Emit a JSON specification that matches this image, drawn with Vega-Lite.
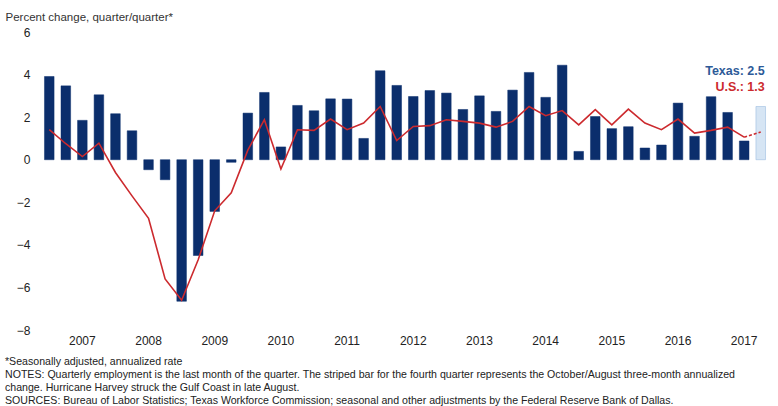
{
  "$schema": "https://vega.github.io/schema/vega-lite/v6.json",
  "width": 728,
  "height": 298,
  "autosize": {"type": "none"},
  "padding": {"left": 41, "top": 32, "right": 9, "bottom": 76},
  "background": "white",
  "config": {
    "view": {"stroke": null},
    "font": "Liberation Sans",
    "axisY": {
      "values": [-8, -6, -4, -2, 0, 2, 4, 6],
      "grid": false,
      "ticks": false,
      "domain": false,
      "labelPadding": 11,
      "labelFontSize": 12,
      "labelColor": "#222222",
      "labelFont": "Liberation Sans",
      "titleAngle": 0,
      "titleAlign": "left",
      "titleBaseline": "alphabetic",
      "titleX": -36,
      "titleY": -12,
      "titleFontSize": 11.5,
      "titleFontWeight": "normal",
      "titleColor": "#333333",
      "titleFont": "Liberation Sans"
    }
  },
  "title": {
    "text": [
      "*Seasonally adjusted, annualized rate",
      "NOTES: Quarterly employment is the last month of the quarter. The striped bar for the fourth quarter represents the October/August three-month annualized",
      "change. Hurricane Harvey struck the Gulf Coast in late August.",
      "SOURCES: Bureau of Labor Statistics; Texas Workforce Commission; seasonal and other adjustments by the Federal Reserve Bank of Dallas."
    ],
    "orient": "bottom",
    "anchor": "start",
    "frame": "group",
    "dx": -36,
    "offset": 11,
    "fontSize": 10.6,
    "fontWeight": "normal",
    "color": "#222222",
    "lineHeight": 13,
    "font": "Liberation Sans"
  },
  "data": {
    "values": [
      {"q": "2007Q1", "tx": 3.91, "us": 1.41},
      {"q": "2007Q2", "tx": 3.47, "us": 0.75},
      {"q": "2007Q3", "tx": 1.85, "us": 0.15},
      {"q": "2007Q4", "tx": 3.05, "us": 0.78},
      {"q": "2008Q1", "tx": 2.16, "us": -0.6},
      {"q": "2008Q2", "tx": 1.36, "us": -1.7},
      {"q": "2008Q3", "tx": -0.47, "us": -2.75},
      {"q": "2008Q4", "tx": -0.94, "us": -5.6},
      {"q": "2009Q1", "tx": -6.65, "us": -6.6},
      {"q": "2009Q2", "tx": -4.5, "us": -4.7},
      {"q": "2009Q3", "tx": -2.43, "us": -2.4},
      {"q": "2009Q4", "tx": -0.12, "us": -1.55},
      {"q": "2010Q1", "tx": 2.19, "us": 0.45},
      {"q": "2010Q2", "tx": 3.16, "us": 1.88},
      {"q": "2010Q3", "tx": 0.6, "us": -0.44},
      {"q": "2010Q4", "tx": 2.55, "us": 1.41},
      {"q": "2011Q1", "tx": 2.3, "us": 1.38},
      {"q": "2011Q2", "tx": 2.86, "us": 1.91},
      {"q": "2011Q3", "tx": 2.85, "us": 1.41},
      {"q": "2011Q4", "tx": 1.0, "us": 1.72},
      {"q": "2012Q1", "tx": 4.18, "us": 2.5},
      {"q": "2012Q2", "tx": 3.49, "us": 0.9},
      {"q": "2012Q3", "tx": 2.97, "us": 1.56},
      {"q": "2012Q4", "tx": 3.25, "us": 1.6},
      {"q": "2013Q1", "tx": 3.13, "us": 1.88},
      {"q": "2013Q2", "tx": 2.36, "us": 1.8},
      {"q": "2013Q3", "tx": 3.0, "us": 1.72},
      {"q": "2013Q4", "tx": 2.27, "us": 1.53},
      {"q": "2014Q1", "tx": 3.27, "us": 1.8},
      {"q": "2014Q2", "tx": 4.1, "us": 2.5},
      {"q": "2014Q3", "tx": 2.93, "us": 2.07},
      {"q": "2014Q4", "tx": 4.44, "us": 2.31},
      {"q": "2015Q1", "tx": 0.39, "us": 1.64},
      {"q": "2015Q2", "tx": 2.03, "us": 2.35},
      {"q": "2015Q3", "tx": 1.46, "us": 1.64},
      {"q": "2015Q4", "tx": 1.55, "us": 2.38},
      {"q": "2016Q1", "tx": 0.55, "us": 1.72},
      {"q": "2016Q2", "tx": 0.69, "us": 1.41},
      {"q": "2016Q3", "tx": 2.66, "us": 1.91},
      {"q": "2016Q4", "tx": 1.1, "us": 1.25},
      {"q": "2017Q1", "tx": 2.96, "us": 1.38},
      {"q": "2017Q2", "tx": 2.22, "us": 1.53},
      {"q": "2017Q3", "tx": 0.88, "us": 1.06},
      {"q": "2017Q4", "tx": 2.5, "us": 1.3}
    ]
  },
  "encoding": {
    "x": {
      "field": "q",
      "type": "ordinal",
      "sort": null,
      "scale": {"paddingInner": 0.42, "paddingOuter": 0.21},
      "axis": {
        "title": null,
        "labelExpr": "slice(datum.value, 4) == 'Q3' ? slice(datum.value, 0, 4) : ''",
        "labelAngle": 0,
        "labelOverlap": false,
        "ticks": false,
        "domain": false,
        "labelPadding": 5,
        "labelFontSize": 12,
        "labelColor": "#222222",
        "labelFont": "Liberation Sans"
      }
    }
  },
  "layer": [
    {
      "mark": {"type": "bar"},
      "encoding": {
        "y": {
          "field": "tx",
          "type": "quantitative",
          "title": "Percent change, quarter/quarter*",
          "scale": {"domain": [-8, 6], "nice": false}
        },
        "fill": {
          "condition": {"test": "datum.q === '2017Q4'", "value": "#d6e5f4"},
          "value": "#0b2e6c"
        },
        "stroke": {
          "condition": {"test": "datum.q === '2017Q4'", "value": "#8fb4dc"},
          "value": "#0b2e6c"
        },
        "strokeWidth": {"value": 0.5}
      }
    },
    {
      "transform": [{"filter": "datum.q !== '2017Q4'"}],
      "mark": {"type": "line", "color": "#cc2a2e", "strokeWidth": 1.6},
      "encoding": {
        "y": {"field": "us", "type": "quantitative", "title": "Percent change, quarter/quarter*"}
      }
    },
    {
      "transform": [{"filter": "datum.q === '2017Q3' || datum.q === '2017Q4'"}],
      "mark": {"type": "line", "color": "#cc2a2e", "strokeWidth": 1.6, "strokeDash": [3, 2]},
      "encoding": {
        "y": {"field": "us", "type": "quantitative", "title": "Percent change, quarter/quarter*"}
      }
    },
    {
      "data": {"values": [{"label": "Texas: 2.5"}]},
      "mark": {"type": "text", "align": "right", "baseline": "middle", "dx": 4, "fontSize": 12.5, "fontWeight": "bold", "color": "#2d5a98", "font": "Liberation Sans"},
      "encoding": {
        "x": {"datum": "2017Q4", "type": "ordinal"},
        "y": {"datum": 4.19, "type": "quantitative", "title": "Percent change, quarter/quarter*"},
        "text": {"field": "label"}
      }
    },
    {
      "data": {"values": [{"label": "U.S.: 1.3"}]},
      "mark": {"type": "text", "align": "right", "baseline": "middle", "dx": 4, "fontSize": 12.5, "fontWeight": "bold", "color": "#cc2a2e", "font": "Liberation Sans"},
      "encoding": {
        "x": {"datum": "2017Q4", "type": "ordinal"},
        "y": {"datum": 3.41, "type": "quantitative", "title": "Percent change, quarter/quarter*"},
        "text": {"field": "label"}
      }
    }
  ]
}
